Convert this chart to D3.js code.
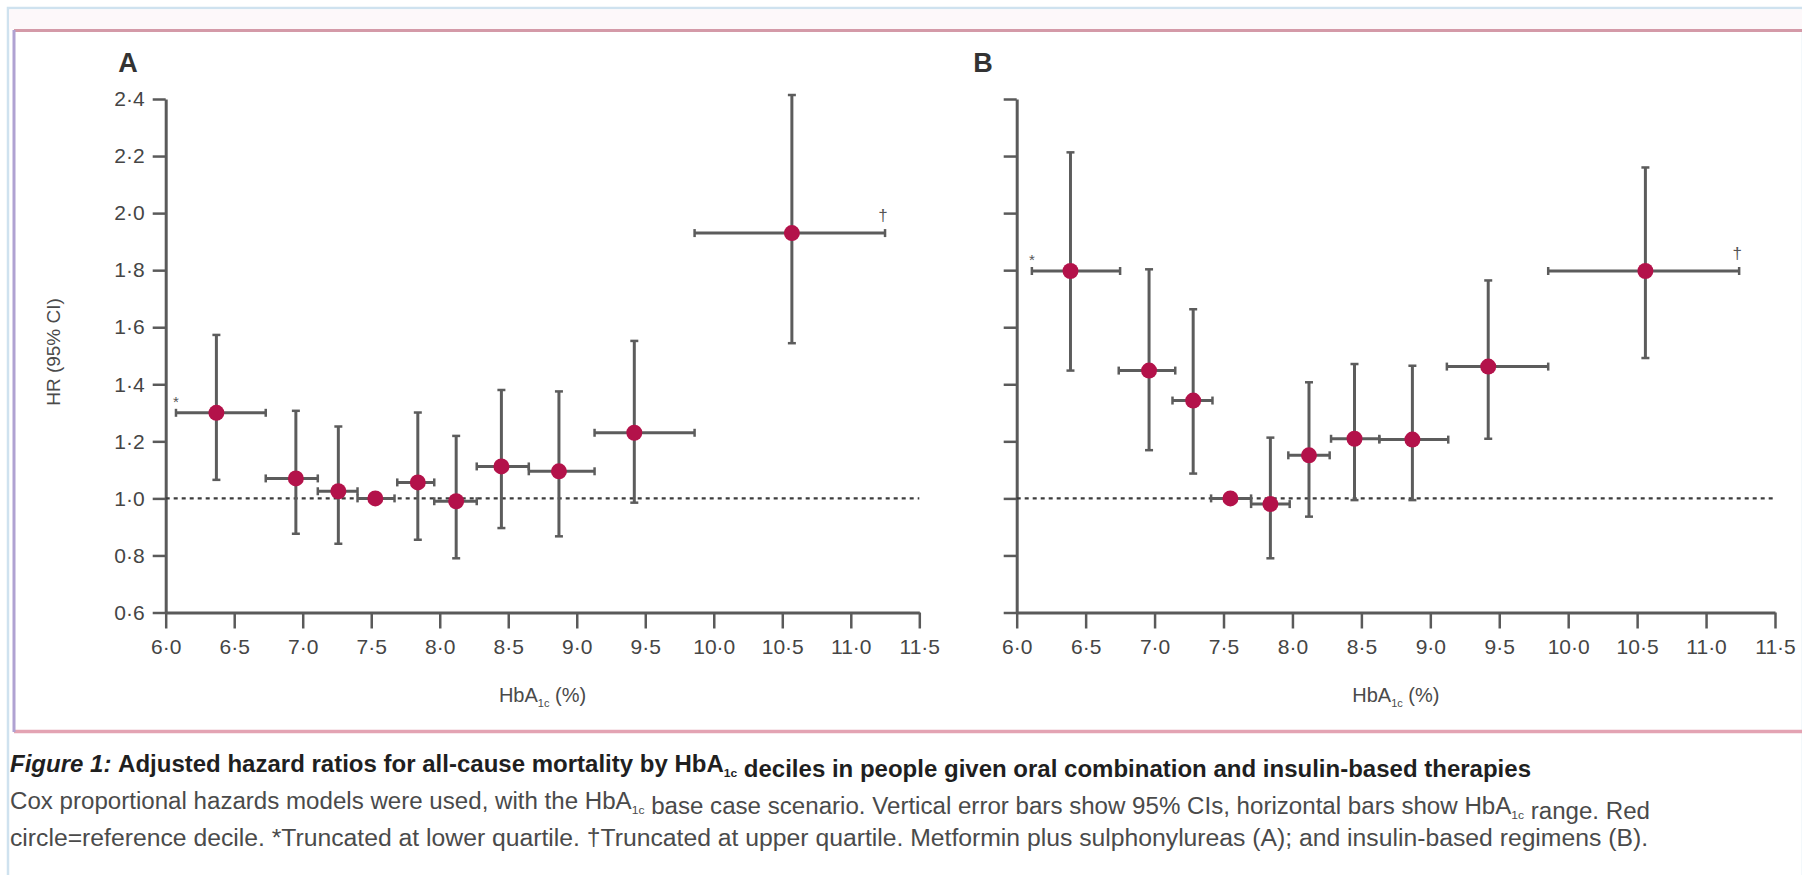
<!DOCTYPE html>
<html>
<head>
<meta charset="utf-8">
<script src="https://cdn.jsdelivr.net/npm/d3@7"></script>
<style>
  html, body { margin: 0; padding: 0; background: #ffffff; }
  svg { display: block; }
  text { font-family: "Liberation Sans", Arial, "DejaVu Sans", sans-serif; }
</style>
</head>
<body>
<svg id="chart" width="1802" height="875"></svg>
<script>
// ---------------- DATA ----------------
const xTickValues = [6.0, 6.5, 7.0, 7.5, 8.0, 8.5, 9.0, 9.5, 10.0, 10.5, 11.0, 11.5];
const yTickValues = [0.6, 0.8, 1.0, 1.2, 1.4, 1.6, 1.8, 2.0, 2.2, 2.4];

// Panel A: metformin plus sulphonylureas
const A_mid    = [6.37, 6.95, 7.26, 7.53, 7.84, 8.12, 8.45, 8.87, 9.42, 10.57];
const A_hr     = [1.30, 1.07, 1.025, 1.0, 1.056, 0.99, 1.112, 1.095, 1.23, 1.93];
const A_ciLow  = [1.065, 0.876, 0.841, null, 0.855, 0.79, 0.896, 0.867, 0.985, 1.544];
const A_ciHigh = [1.573, 1.307, 1.252, null, 1.301, 1.219, 1.38, 1.375, 1.552, 2.414];
const A_rangeLow  = [6.075, 6.73, 7.11, 7.40, 7.69, 7.96, 8.27, 8.65, 9.13, 9.86];
const A_rangeHigh = [6.73, 7.11, 7.40, 7.67, 7.96, 8.27, 8.65, 9.13, 9.86, 11.25];

// Panel B: insulin-based regimens
const B_mid    = [6.39, 6.96, 7.28, 7.55, 7.84, 8.12, 8.45, 8.87, 9.42, 10.56];
const B_hr     = [1.797, 1.448, 1.343, 1.0, 0.98, 1.151, 1.209, 1.206, 1.462, 1.797];
const B_ciLow  = [1.448, 1.169, 1.087, null, 0.79, 0.936, 0.994, 0.994, 1.209, 1.492];
const B_ciHigh = [2.213, 1.803, 1.663, null, 1.213, 1.407, 1.471, 1.465, 1.764, 2.16];
const B_rangeLow  = [6.11, 6.74, 7.13, 7.41, 7.70, 7.97, 8.28, 8.63, 9.12, 9.855];
const B_rangeHigh = [6.75, 7.15, 7.42, 7.70, 7.98, 8.27, 8.63, 9.13, 9.855, 11.24];

const referenceHR = 1.0;
const panelLabels = ["A", "B"];

// ---------------- DRAW ----------------
const svg = d3.select("#chart");
const W = 1802, H = 875;

// outer light-blue border
svg.append("rect").attr("x", 8).attr("y", 8).attr("width", W - 7).attr("height", H)
  .attr("fill", "#ffffff").attr("stroke", "#cfe2ef").attr("stroke-width", 2.5);
svg.append("rect").attr("x", 9).attr("y", 9.5).attr("width", W).attr("height", 20)
  .attr("fill", "#fdf8fa");
// pink figure frame (top, bottom), lavender left
svg.append("line").attr("x1", 14).attr("x2", W).attr("y1", 30.5).attr("y2", 30.5)
  .attr("stroke", "#d49aa8").attr("stroke-width", 3);
svg.append("line").attr("x1", 14).attr("x2", W).attr("y1", 731.5).attr("y2", 731.5)
  .attr("stroke", "#e3a3b3").attr("stroke-width", 3.5);
svg.append("line").attr("x1", 14).attr("x2", 14).attr("y1", 30).attr("y2", 732)
  .attr("stroke", "#b0a2d2").attr("stroke-width", 3);

const fmt = v => d3.format(".1f")(v).replace(".", "\u00b7");
const axisColor = "#5a5a5a";
const barColor = "#5c5c5c";
const dotColor = "#b3124a";

const panels = [
  { label: panelLabels[0], mid: A_mid, hr: A_hr, lo: A_ciLow, hi: A_ciHigh, rl: A_rangeLow, rh: A_rangeHigh,
    x0: 165.7, x1: 919.3, yLabels: true, labelX: 128 },
  { label: panelLabels[1], mid: B_mid, hr: B_hr, lo: B_ciLow, hi: B_ciHigh, rl: B_rangeLow, rh: B_rangeHigh,
    x0: 1016.7, x1: 1775, yLabels: false, labelX: 983 }
];
const yTop = 99, yBottom = 612.5;

panels.forEach((p, pi) => {
  const x = d3.scaleLinear().domain([6.0, 11.5]).range([p.x0, p.x1]);
  const y = d3.scaleLinear().domain([0.6, 2.4]).range([yBottom, yTop]);
  const g = svg.append("g");

  // x axis
  const xAxis = d3.axisBottom(x).tickValues(xTickValues).tickFormat(fmt)
    .tickSize(16).tickSizeOuter(0).tickPadding(11);
  const gx = g.append("g").attr("transform", `translate(0,${yBottom})`).call(xAxis);
  gx.select(".domain").attr("stroke", axisColor).attr("stroke-width", 3);
  gx.selectAll(".tick line").attr("stroke", axisColor).attr("stroke-width", 2.5);
  gx.selectAll(".tick text").attr("fill", "#454545").attr("font-size", 21);

  // y axis
  const yAxis = d3.axisLeft(y).tickValues(yTickValues)
    .tickFormat(p.yLabels ? fmt : () => "")
    .tickSize(13).tickSizeOuter(0).tickPadding(8);
  const gy = g.append("g").attr("transform", `translate(${p.x0},0)`).call(yAxis);
  gy.select(".domain").attr("stroke", axisColor).attr("stroke-width", 3);
  gy.selectAll(".tick line").attr("stroke", axisColor).attr("stroke-width", 2.5);
  gy.selectAll(".tick text").attr("fill", "#454545").attr("font-size", 21);

  // panel letter
  g.append("text").attr("x", p.labelX).attr("y", 72).attr("text-anchor", "middle")
    .attr("font-size", 27).attr("font-weight", "bold").attr("fill", "#333").text(p.label);

  // axis titles
  const xt = g.append("text").attr("x", (p.x0 + p.x1) / 2).attr("y", 702)
    .attr("text-anchor", "middle").attr("font-size", 20).attr("fill", "#4a4a4a");
  xt.append("tspan").text("HbA");
  xt.append("tspan").attr("font-size", 11).attr("dy", 5).text("1c");
  xt.append("tspan").attr("dy", -5).text(" (%)");

  if (p.yLabels) {
    g.append("text").attr("transform", `translate(60,352) rotate(-90)`)
      .attr("text-anchor", "middle").attr("font-size", 19).attr("fill", "#4a4a4a")
      .text("HR (95% CI)");
  }

  // reference line
  g.append("line").attr("x1", x(6.0)).attr("x2", x(11.5))
    .attr("y1", y(referenceHR)).attr("y2", y(referenceHR))
    .attr("stroke", "#3d3d3d").attr("stroke-width", 2.2).attr("stroke-dasharray", "4,4");

  const idx = d3.range(p.mid.length);
  const cap = 4;

  // horizontal range bars
  idx.forEach(i => {
    const yy = y(p.hr[i]);
    g.append("line").attr("x1", x(p.rl[i])).attr("x2", x(p.rh[i])).attr("y1", yy).attr("y2", yy)
      .attr("stroke", barColor).attr("stroke-width", 3);
    [p.rl[i], p.rh[i]].forEach(v => {
      g.append("line").attr("x1", x(v)).attr("x2", x(v)).attr("y1", yy - cap).attr("y2", yy + cap)
        .attr("stroke", barColor).attr("stroke-width", 2.5);
    });
  });
  // vertical CI bars
  idx.filter(i => p.lo[i] !== null).forEach(i => {
    const xx = x(p.mid[i]);
    g.append("line").attr("x1", xx).attr("x2", xx).attr("y1", y(p.lo[i])).attr("y2", y(p.hi[i]))
      .attr("stroke", barColor).attr("stroke-width", 3);
    [p.lo[i], p.hi[i]].forEach(v => {
      g.append("line").attr("x1", xx - cap).attr("x2", xx + cap).attr("y1", y(v)).attr("y2", y(v))
        .attr("stroke", barColor).attr("stroke-width", 2.5);
    });
  });
  // points
  g.selectAll("circle.pt").data(idx).join("circle").attr("class", "pt")
    .attr("cx", i => x(p.mid[i])).attr("cy", i => y(p.hr[i])).attr("r", 8)
    .attr("fill", dotColor);

  // truncation markers
  const first = 0, last = p.mid.length - 1;
  g.append("text").attr("x", x(p.rl[first])).attr("y", y(p.hr[first]) - 6)
    .attr("text-anchor", "middle").attr("font-size", 15).attr("fill", "#555").text("*");
  g.append("text").attr("x", x(p.rh[last]) - 2).attr("y", y(p.hr[last]) - 12)
    .attr("text-anchor", "middle").attr("font-size", 17).attr("fill", "#555").text("\u2020");
});

// ---------------- CAPTION ----------------
function captionLine(yPos, len, parts, opts) {
  const t = svg.append("text").attr("x", 10).attr("y", yPos)
    .attr("font-size", opts.size).attr("fill", opts.fill)
    .attr("font-weight", opts.bold ? "bold" : "normal")
    .attr("textLength", len).attr("lengthAdjust", "spacingAndGlyphs");
  parts.forEach(pt => {
    if (pt.sub) {
      t.append("tspan").attr("font-size", opts.size * 0.5).attr("dy", 5).text(pt.sub);
      t.append("tspan").attr("dy", -5).text("");
    } else {
      const s = t.append("tspan").text(pt.t);
      if (pt.italic) s.attr("font-style", "italic");
    }
  });
}
captionLine(772, 1521, [
  { t: "Figure 1: ", italic: true },
  { t: "Adjusted hazard ratios for all-cause mortality by HbA" }, { sub: "1c" },
  { t: " deciles in people given oral combination and insulin-based therapies" }
], { size: 23, fill: "#1f1f1f", bold: true });
captionLine(809, 1640, [
  { t: "Cox proportional hazards models were used, with the HbA" }, { sub: "1c" },
  { t: " base case scenario. Vertical error bars show 95% CIs, horizontal bars show HbA" }, { sub: "1c" },
  { t: " range. Red" }
], { size: 23, fill: "#4a4a4a", bold: false });
captionLine(846, 1638, [
  { t: "circle=reference decile. *Truncated at lower quartile. \u2020Truncated at upper quartile. Metformin plus sulphonylureas (A); and insulin-based regimens (B)." }
], { size: 23, fill: "#4a4a4a", bold: false });
</script>
</body>
</html>
